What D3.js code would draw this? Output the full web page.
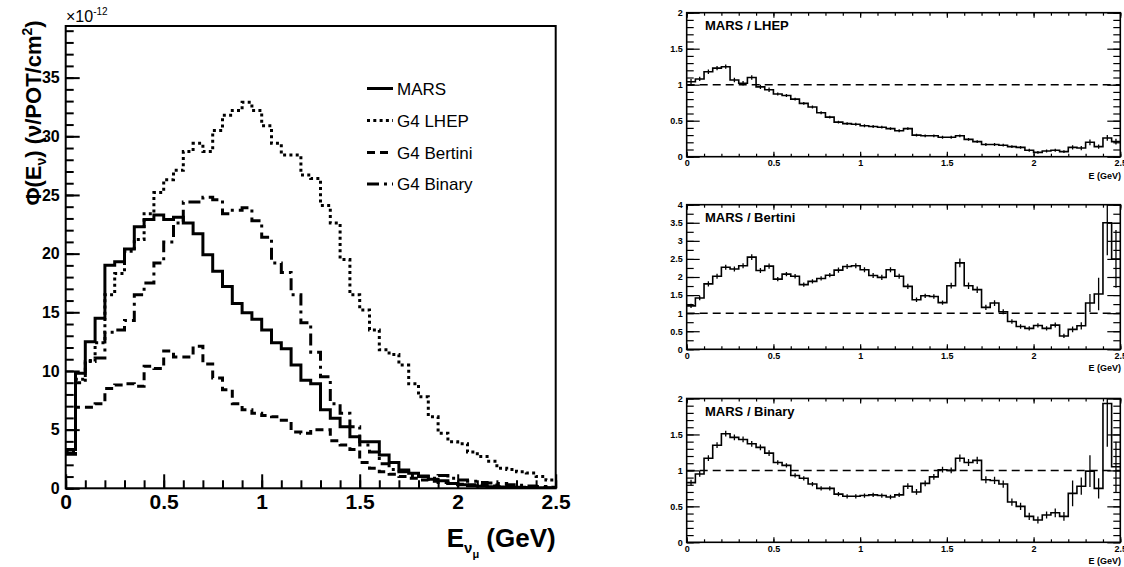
<!DOCTYPE html>
<html>
<head>
<meta charset="utf-8">
<script src="https://cdn.jsdelivr.net/npm/d3@7"></script>
<style>
  html, body { margin: 0; padding: 0; background: #fff; }
  svg { display: block; font-family: "Liberation Sans", Arial, Helvetica, sans-serif; }
</style>
</head>
<body>
<svg id="chart" width="1124" height="567"></svg>
<script>
/* ── Data ──────────────────────────────────────────────────────────────── */
const BIN_EDGES = [0, 0.05, 0.1, 0.15, 0.2, 0.25, 0.3, 0.35, 0.4, 0.45,
  0.5, 0.55, 0.6, 0.65, 0.7, 0.75, 0.8, 0.85, 0.9, 0.95,
  1, 1.05, 1.1, 1.15, 1.2, 1.25, 1.3, 1.35, 1.4, 1.45,
  1.5, 1.55, 1.6, 1.65, 1.7, 1.75, 1.8, 1.85, 1.9, 1.95,
  2, 2.05, 2.1, 2.15, 2.2, 2.25, 2.3, 2.35, 2.4, 2.45, 2.5];

const X_TICKS        = [0, 0.5, 1, 1.5, 2, 2.5];
const FLUX_TICKS     = [0, 5, 10, 15, 20, 25, 30, 35];
const RATIO_TICKS    = [0, 0.5, 1, 1.5, 2];
const RATIO_TICKS_4  = [0, 0.5, 1, 1.5, 2, 2.5, 3, 3.5, 4];
const LEGEND_NAMES   = ['MARS', 'G4 LHEP', 'G4 Bertini', 'G4 Binary'];
const RATIO_TITLES   = ['MARS / LHEP', 'MARS / Bertini', 'MARS / Binary'];

// flux, units of 1e-12 nu/POT/cm2, one value per 0.05 GeV bin
const MARS = [3.3, 9.8, 12.5, 14.5, 19.0, 19.3, 20.4, 22.3, 22.9, 23.3,
  22.9, 23.1, 22.6, 21.7, 19.9, 18.5, 17.2, 15.75, 14.96, 14.4,
  13.5, 12.4, 11.9, 10.5, 9.2, 8.9, 6.7, 5.96, 5.25, 4.4,
  3.97, 3.97, 2.84, 2.2, 1.56, 1.28, 1.05, 0.77, 0.65, 0.4,
  0.3, 0.22, 0.18, 0.14, 0.11, 0.09, 0.07, 0.05, 0.04, 0.03];
const LHEP = [3.1, 9.3, 10.8, 12.4, 16.5, 18.3, 20.2, 21.2, 23.4, 25.2,
  26.3, 27.1, 28.7, 29.4, 28.7, 30.5, 31.8, 32.2, 32.9, 32.2,
  30.9, 29.4, 28.4, 28.4, 26.7, 26.4, 24.1, 22.6, 19.5, 16.5,
  15.2, 13.5, 11.8, 11.4, 10.5, 8.9, 7.8, 6.1, 4.7, 3.97,
  3.8, 3.1, 2.7, 2.3, 1.7, 1.6, 1.4, 1.3, 1.0, 0.7];
const BERTINI = [3.0, 6.9, 6.9, 7.2, 8.5, 8.8, 8.9, 8.7, 10.4, 10.2,
  11.7, 11.2, 11.2, 12.1, 10.6, 9.4, 8.4, 7.2, 6.7, 6.4,
  6.2, 6.1, 5.8, 4.8, 4.7, 5.0, 5.0, 4.05, 3.7, 3.3,
  2.2, 1.7, 1.4, 1.2, 1.0, 0.85, 0.7, 0.6, 0.5, 0.4,
  0.35, 0.3, 0.25, 0.2, 0.15, 0.12, 0.1, 0.08, 0.06, 0.05];
const BINARY = [2.9, 9.0, 10.9, 11.1, 13.3, 13.5, 14.3, 16.5, 17.5, 19.2,
  21.0, 22.6, 24.4, 24.4, 24.8, 24.6, 23.4, 23.7, 23.9, 22.8,
  21.4, 19.2, 18.4, 16.5, 14.1, 11.6, 9.5, 7.2, 6.4, 5.25,
  3.7, 3.1, 2.1, 1.6, 1.4, 1.1, 1.0, 0.85, 1.1, 0.85,
  0.7, 0.6, 0.5, 0.45, 0.4, 0.3, 0.25, 0.2, 0.15, 0.1];

// ratios MARS / G4 model and their errors
const R_LHEP = [1.04, 1.08, 1.18, 1.23, 1.25, 1.065, 1.02, 1.10, 0.97, 0.93,
  0.87, 0.85, 0.80, 0.74, 0.69, 0.61, 0.55, 0.48, 0.46, 0.45,
  0.43, 0.42, 0.41, 0.39, 0.36, 0.39, 0.30, 0.29, 0.29, 0.27,
  0.27, 0.29, 0.24, 0.21, 0.17, 0.17, 0.16, 0.14, 0.13, 0.09,
  0.06, 0.08, 0.09, 0.07, 0.13, 0.12, 0.20, 0.14, 0.26, 0.21];
const E_LHEP = [0.04, 0.03, 0.03, 0.03, 0.03, 0.03, 0.03, 0.03, 0.03, 0.03,
  0.02, 0.02, 0.02, 0.02, 0.02, 0.02, 0.02, 0.02, 0.02, 0.02,
  0.02, 0.02, 0.02, 0.02, 0.02, 0.02, 0.02, 0.02, 0.02, 0.02,
  0.02, 0.02, 0.02, 0.02, 0.02, 0.02, 0.02, 0.02, 0.02, 0.02,
  0.02, 0.02, 0.02, 0.02, 0.03, 0.03, 0.04, 0.03, 0.04, 0.04];
const R_BERTINI = [1.2, 1.42, 1.81, 2.02, 2.27, 2.22, 2.31, 2.55, 2.18, 2.30,
  1.94, 2.08, 2.02, 1.79, 1.88, 1.96, 2.05, 2.19, 2.29, 2.31,
  2.2, 2.04, 1.99, 2.2, 2.02, 1.74, 1.37, 1.48, 1.46, 1.29,
  1.76, 2.39, 1.76, 1.65, 1.16, 1.28, 1.04, 0.77, 0.63, 0.58,
  0.66, 0.58, 0.67, 0.37, 0.55, 0.65, 1.28, 1.53, 3.5, 2.5];
const E_BERTINI = [0.06, 0.06, 0.07, 0.07, 0.07, 0.07, 0.07, 0.08, 0.07, 0.07,
  0.06, 0.06, 0.06, 0.06, 0.06, 0.06, 0.06, 0.07, 0.07, 0.07,
  0.07, 0.07, 0.07, 0.07, 0.07, 0.07, 0.06, 0.06, 0.06, 0.06,
  0.08, 0.12, 0.09, 0.09, 0.07, 0.08, 0.07, 0.06, 0.06, 0.06,
  0.06, 0.06, 0.07, 0.06, 0.08, 0.10, 0.25, 0.45, 0.9, 0.8];
const R_BINARY = [0.83, 0.95, 1.17, 1.35, 1.51, 1.46, 1.43, 1.37, 1.32, 1.24,
  1.11, 1.07, 0.93, 0.89, 0.81, 0.75, 0.75, 0.67, 0.64, 0.64,
  0.65, 0.66, 0.65, 0.63, 0.66, 0.78, 0.70, 0.82, 0.91, 1.01,
  1.00, 1.17, 1.11, 1.14, 0.87, 0.86, 0.81, 0.56, 0.50, 0.36,
  0.31, 0.38, 0.41, 0.36, 0.68, 0.78, 0.99, 0.75, 1.93, 1.05];
const E_BINARY = [0.04, 0.04, 0.04, 0.04, 0.04, 0.04, 0.04, 0.04, 0.04, 0.04,
  0.03, 0.03, 0.03, 0.03, 0.03, 0.03, 0.03, 0.03, 0.03, 0.03,
  0.03, 0.03, 0.03, 0.03, 0.03, 0.04, 0.04, 0.04, 0.04, 0.04,
  0.04, 0.05, 0.05, 0.05, 0.05, 0.05, 0.05, 0.05, 0.05, 0.05,
  0.05, 0.05, 0.06, 0.06, 0.18, 0.12, 0.22, 0.14, 0.6, 0.35];

/* ── Helpers ───────────────────────────────────────────────────────────── */
const svg = d3.select('#chart');
const fmtTick = d3.format('~g');

function stepPath(x, y, vals) {
  const pts = BIN_EDGES.map((e, i) => [x(e), y(vals[Math.min(i, vals.length - 1)])]);
  return d3.line().curve(d3.curveStepAfter)(pts);
}

// ROOT-style inward ticks; labels only when fmt is given
function tickSet(parent, axisFn, scale, vals, len, sw, fmt, pad, size) {
  const g = parent.append('g');
  g.call(axisFn(scale).tickValues(vals).tickSize(-len).tickPadding(pad || 3)
    .tickFormat(fmt || (() => '')));
  g.attr('font-family', null).attr('font-size', null);
  g.select('.domain').remove();
  g.selectAll('line').attr('stroke', '#000').attr('stroke-width', sw);
  g.selectAll('text').attr('fill', '#000').attr('font-size', size).attr('font-weight', 'bold');
  return g;
}

/* ── Left: flux spectra ────────────────────────────────────────────────── */
const L = { l: 65.7, r: 555.7, t: 26, b: 488.3 };
const fx = d3.scaleLinear().domain([0, 2.5]).range([L.l, L.r]);
const fy = d3.scaleLinear().domain([0, 39.4]).range([L.b, L.t]);

svg.append('clipPath').attr('id', 'clipL').append('rect')
  .attr('x', L.l).attr('y', L.t).attr('width', L.r - L.l).attr('height', L.b - L.t);

const STYLES = [
  { vals: MARS,    dash: null },
  { vals: LHEP,    dash: '3,3.3' },
  { vals: BERTINI, dash: '8,5' },
  { vals: BINARY,  dash: '12,5,3,5' },
];

const hg = svg.append('g').attr('clip-path', 'url(#clipL)');
[1, 2, 3, 0].forEach(i => {
  hg.append('path').attr('d', stepPath(fx, fy, STYLES[i].vals))
    .attr('fill', 'none').attr('stroke', '#000').attr('stroke-width', 3)
    .attr('stroke-dasharray', STYLES[i].dash);
});

svg.append('rect').attr('x', L.l).attr('y', L.t).attr('width', L.r - L.l).attr('height', L.b - L.t)
  .attr('fill', 'none').attr('stroke', '#000').attr('stroke-width', 2);

const gxL = svg.append('g').attr('transform', `translate(0,${L.b})`);
tickSet(gxL, d3.axisBottom, fx, d3.range(0, 2.5001, 0.1), 8, 2);
tickSet(gxL, d3.axisBottom, fx, X_TICKS, 14, 2, fmtTick, 6, 21);
const gyL = svg.append('g').attr('transform', `translate(${L.l},0)`);
tickSet(gyL, d3.axisLeft, fy, d3.range(0, 39.01, 1), 8, 2);
tickSet(gyL, d3.axisLeft, fy, FLUX_TICKS, 14, 2, fmtTick, 6, 16);

// exponent
const ex = svg.append('text').attr('x', 66).attr('y', 22).attr('font-size', 16);
ex.append('tspan').text('\u00d710');
ex.append('tspan').attr('font-size', 10).attr('dy', -7).text('-12');

// axis titles
const xt = svg.append('text').attr('x', L.r).attr('y', 547).attr('text-anchor', 'end')
  .attr('font-size', 26).attr('font-weight', 'bold');
xt.append('tspan').text('E');
xt.append('tspan').attr('font-size', 15).attr('dy', 6).text('\u03bd');
xt.append('tspan').attr('font-size', 11).attr('dy', 5).text('\u03bc');
xt.append('tspan').attr('dy', -11).text(' (GeV)');

const yt = svg.append('text').attr('transform', 'translate(41,113) rotate(-90)')
  .attr('text-anchor', 'middle').attr('font-size', 22).attr('font-weight', 'bold');
yt.append('tspan').text('\u03a6(E');
yt.append('tspan').attr('font-size', 14).attr('dy', 5).text('\u03bd');
yt.append('tspan').attr('dy', -5).text(') (\u03bd/POT/cm');
yt.append('tspan').attr('font-size', 14).attr('dy', -9).text('2');
yt.append('tspan').attr('dy', 9).text(')');

// legend
const LEG_Y = [88.5, 120.5, 152.5, 184];
LEGEND_NAMES.forEach((name, i) => {
  svg.append('line').attr('x1', 367).attr('x2', 393).attr('y1', LEG_Y[i]).attr('y2', LEG_Y[i])
    .attr('stroke', '#000').attr('stroke-width', 3).attr('stroke-dasharray', STYLES[i].dash);
  svg.append('text').attr('x', 397).attr('y', LEG_Y[i] + 6).attr('font-size', 17).text(name);
});

/* ── Right: ratio panels ───────────────────────────────────────────────── */
const R = { l: 686.7, r: 1120.3 };
const rx = d3.scaleLinear().domain([0, 2.5]).range([R.l, R.r]);

const PANELS = [
  { title: RATIO_TITLES[0], vals: R_LHEP,    errs: E_LHEP,    t: 12.7,  b: 156.7, ymax: 2, major: RATIO_TICKS,   minor: 0.1 },
  { title: RATIO_TITLES[1], vals: R_BERTINI, errs: E_BERTINI, t: 204.7, b: 349.3, ymax: 4, major: RATIO_TICKS_4, minor: 0.25 },
  { title: RATIO_TITLES[2], vals: R_BINARY,  errs: E_BINARY,  t: 398.5, b: 542.3, ymax: 2, major: RATIO_TICKS,   minor: 0.1 },
];

PANELS.forEach((p, pi) => {
  const ry = d3.scaleLinear().domain([0, p.ymax]).range([p.b, p.t]);
  const cid = 'clipR' + pi;
  svg.append('clipPath').attr('id', cid).append('rect')
    .attr('x', R.l).attr('y', p.t).attr('width', R.r - R.l).attr('height', p.b - p.t);
  const g = svg.append('g').attr('clip-path', `url(#${cid})`);

  // reference line at 1
  g.append('line').attr('x1', rx(0)).attr('x2', rx(2.5)).attr('y1', ry(1)).attr('y2', ry(1))
    .attr('stroke', '#000').attr('stroke-width', 1.5).attr('stroke-dasharray', '8,5');

  g.append('path').attr('d', stepPath(rx, ry, p.vals))
    .attr('fill', 'none').attr('stroke', '#000').attr('stroke-width', 1.6);

  g.selectAll('line.err').data(p.vals).join('line').attr('class', 'err')
    .attr('x1', (d, i) => rx((BIN_EDGES[i] + BIN_EDGES[i + 1]) / 2))
    .attr('x2', (d, i) => rx((BIN_EDGES[i] + BIN_EDGES[i + 1]) / 2))
    .attr('y1', (d, i) => ry(d - p.errs[i]))
    .attr('y2', (d, i) => ry(d + p.errs[i]))
    .attr('stroke', '#000').attr('stroke-width', 1.3);

  svg.append('rect').attr('x', R.l).attr('y', p.t).attr('width', R.r - R.l).attr('height', p.b - p.t)
    .attr('fill', 'none').attr('stroke', '#000').attr('stroke-width', 1.6);

  const minorY = d3.range(0, p.ymax + 1e-6, p.minor);
  const minorX = d3.range(0, 2.5001, 0.1);
  const gb = svg.append('g').attr('transform', `translate(0,${p.b})`);
  tickSet(gb, d3.axisBottom, rx, minorX, 3, 1.2);
  tickSet(gb, d3.axisBottom, rx, X_TICKS, 5, 1.2, fmtTick, 3, 9);
  const gt = svg.append('g').attr('transform', `translate(0,${p.t})`);
  tickSet(gt, d3.axisTop, rx, minorX, 3, 1.2);
  tickSet(gt, d3.axisTop, rx, X_TICKS, 5, 1.2);
  const gl = svg.append('g').attr('transform', `translate(${R.l},0)`);
  tickSet(gl, d3.axisLeft, ry, minorY, 7, 1.2);
  tickSet(gl, d3.axisLeft, ry, p.major, 13, 1.2, fmtTick, 4, 9);
  const gr = svg.append('g').attr('transform', `translate(${R.r},0)`);
  tickSet(gr, d3.axisRight, ry, minorY, 7, 1.2);
  tickSet(gr, d3.axisRight, ry, p.major, 13, 1.2);

  svg.append('text').attr('x', 705).attr('y', p.t + 17)
    .attr('font-size', 13).attr('font-weight', 'bold').text(p.title);
  svg.append('text').attr('x', 1121).attr('y', p.b + 22).attr('text-anchor', 'end')
    .attr('font-size', 9).attr('font-weight', 'bold').text('E (GeV)');
});
</script>
</body>
</html>
